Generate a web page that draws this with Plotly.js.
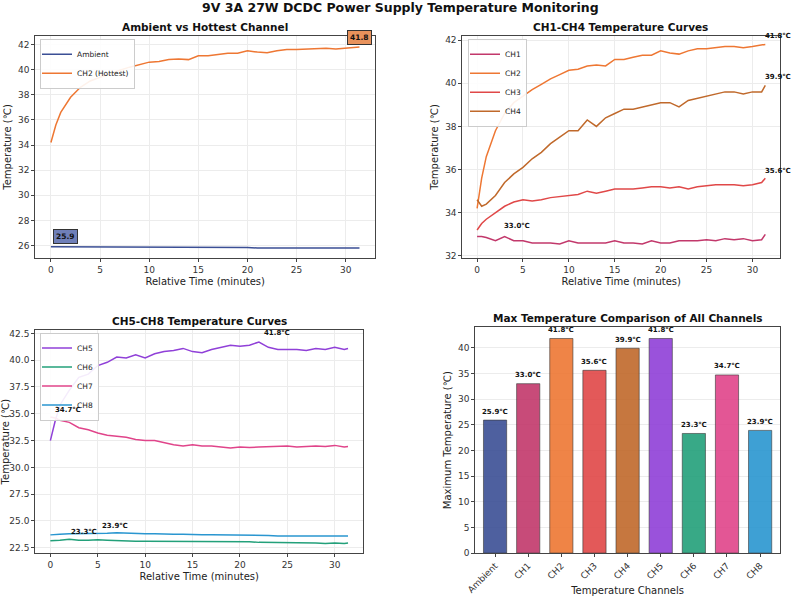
<!DOCTYPE html>
<html><head><meta charset="utf-8">
<script src="https://cdn.plot.ly/plotly-3.0.1.min.js"></script>
<style>body{margin:0;background:#fff}#chart{width:800px;height:596px}</style>
</head><body><div id="chart"></div>
<script>
// time samples in minutes
const timeMin = [0,0.5,1,2,3,4,5,6,7,8,9,10,11,12,13,14,15,16,17,18,19,20,21,22,23,24,25,26,27,28,29,30,31,31.4];
const ambient = [25.9,25.9,25.9,25.9,25.9,25.9,25.85,25.85,25.9,25.9,25.9,25.9,25.9,25.9,25.85,25.85,25.9,25.85,25.85,25.85,25.85,25.85,25.8,25.8,25.8,25.8,25.8,25.8,25.8,25.8,25.8,25.8,25.8,25.8];
const ch1 = [32.9,32.9,32.85,32.7,32.9,32.7,32.7,32.6,32.6,32.6,32.55,32.7,32.6,32.6,32.6,32.6,32.7,32.6,32.6,32.55,32.7,32.6,32.6,32.7,32.7,32.7,32.75,32.7,32.8,32.75,32.8,32.7,32.75,33.0];
const ch2 = [34.2,35.6,36.6,37.8,38.6,39.1,39.4,39.7,39.95,40.2,40.4,40.6,40.65,40.8,40.85,40.8,41.1,41.1,41.2,41.3,41.3,41.5,41.4,41.35,41.5,41.6,41.6,41.65,41.7,41.7,41.65,41.7,41.75,41.8];
const ch3 = [33.2,33.5,33.7,34.0,34.3,34.5,34.6,34.55,34.6,34.7,34.75,34.8,34.85,35.0,34.9,35.0,35.1,35.1,35.1,35.15,35.2,35.2,35.15,35.2,35.1,35.2,35.25,35.3,35.3,35.3,35.25,35.3,35.4,35.6];
const ch4 = [34.6,34.3,34.4,34.8,35.4,35.8,36.1,36.5,36.8,37.2,37.5,37.8,37.8,38.3,38.0,38.4,38.6,38.8,38.8,38.9,39.0,39.1,39.1,38.9,39.2,39.3,39.4,39.5,39.6,39.6,39.5,39.6,39.6,39.9];
const ch5 = [32.5,34.3,35.8,37.2,38.4,38.7,39.5,39.8,40.3,40.2,40.5,40.2,40.6,40.8,40.9,41.1,40.8,40.7,41.0,41.2,41.4,41.3,41.4,41.7,41.2,41.0,41.0,41.0,40.9,41.1,41.0,41.2,41.0,41.1];
const ch6 = [23.15,23.15,23.2,23.3,23.2,23.2,23.25,23.2,23.15,23.1,23.1,23.1,23.1,23.1,23.05,23.1,23.1,23.05,23.05,23.05,23.1,23.05,23.05,23.0,23.0,22.95,22.95,22.95,22.95,22.95,22.9,22.95,22.9,22.95];
const ch7 = [34.7,34.6,34.4,34.2,33.7,33.5,33.2,33.0,32.9,32.8,32.6,32.5,32.5,32.3,32.1,32.0,32.1,32.0,32.0,31.9,31.8,31.9,31.85,31.9,31.95,31.95,32.0,31.9,31.95,32.0,31.95,32.05,31.9,31.95];
const ch8 = [23.7,23.7,23.75,23.8,23.8,23.85,23.85,23.85,23.9,23.85,23.8,23.8,23.8,23.75,23.75,23.75,23.7,23.7,23.7,23.7,23.7,23.7,23.65,23.65,23.65,23.6,23.6,23.6,23.6,23.6,23.55,23.55,23.55,23.6];
const barLabels = ['Ambient','CH1','CH2','CH3','CH4','CH5','CH6','CH7','CH8'];
const maxTemps = [25.9,33.0,41.8,35.6,39.9,41.8,23.3,34.7,23.9];
const colors = ['#3b4f95','#c2386b','#ee7733','#e04848','#c0692b','#9040d8','#23a07a','#e0448a','#2a96d0'];

const font = 'DejaVu Sans, sans-serif';
const line = (y, name, c, xa, ya, legend) => ({
  type: 'scatter', mode: 'lines', x: timeMin, y, name, xaxis: xa, yaxis: ya, legend,
  line: { color: c, width: 1.5 }
});

const traces = [
  line(ambient, 'Ambient', colors[0], 'x', 'y', 'legend'),
  line(ch2, 'CH2 (Hottest)', colors[2], 'x', 'y', 'legend'),
  line(ch1, 'CH1', colors[1], 'x2', 'y2', 'legend2'),
  line(ch2, 'CH2', colors[2], 'x2', 'y2', 'legend2'),
  line(ch3, 'CH3', colors[3], 'x2', 'y2', 'legend2'),
  line(ch4, 'CH4', colors[4], 'x2', 'y2', 'legend2'),
  line(ch5, 'CH5', colors[5], 'x3', 'y3', 'legend3'),
  line(ch6, 'CH6', colors[6], 'x3', 'y3', 'legend3'),
  line(ch7, 'CH7', colors[7], 'x3', 'y3', 'legend3'),
  line(ch8, 'CH8', colors[8], 'x3', 'y3', 'legend3'),
  { type: 'bar', x: barLabels, y: maxTemps, xaxis: 'x4', yaxis: 'y4', showlegend: false,
    marker: { color: colors, opacity: 0.9, line: { color: '#222', width: 0.6 } }, width: 0.7 }
];

const ax = (domain, anchor, extra) => Object.assign({
  domain, anchor, showline: true, mirror: true, linecolor: '#444', linewidth: 1,
  gridcolor: '#ececec', zeroline: false, ticks: 'outside', ticklen: 3, tickcolor: '#444',
  tickfont: { size: 9, color: '#333' }
}, extra);
const ttl = (text) => ({ text, font: { size: 10, color: '#222' }, standoff: 4 });
const leg = (y, x) => ({ x, y, xanchor: 'left', yanchor: 'top', bgcolor: 'rgba(255,255,255,0.9)',
  bordercolor: '#ccc', borderwidth: 1, font: { size: 7.5, color: '#222' }, tracegroupgap: 0,
  itemwidth: 30, indentation: -4 });

// value labels
const ann = [];
const small = { size: 7, color: '#111', weight: 'bold' };
const lab = (text, x, y, xref, yref, extra) => ann.push(Object.assign({ text, x, y, xref, yref,
  showarrow: false, font: { size: 7.5, color: '#111', family: font, weight: 'bold' }, xanchor: 'left', yanchor: 'bottom' }, extra));
lab('25.9', 0.2, 26.1, 'x', 'y', { bgcolor: '#6f7fb8', bordercolor: '#333', borderwidth: 1, borderpad: 2 });
lab('41.8', 31.4, 41.95, 'x', 'y', { xanchor: 'center', bgcolor: '#e8925c', bordercolor: '#333', borderwidth: 1, borderpad: 2 });
lab('41.8℃', 31.2, 41.9, 'x2', 'y2', { font: small });
lab('39.9℃', 31.2, 40.0, 'x2', 'y2', { font: small });
lab('35.6℃', 31.2, 35.65, 'x2', 'y2', { font: small });
lab('33.0℃', 2.7, 33.1, 'x2', 'y2', { font: small });
lab('41.8℃', 22.3, 41.95, 'x3', 'y3', { font: small });
lab('34.7℃', 0.3, 34.8, 'x3', 'y3', { font: small });
lab('23.3℃', 2.0, 23.4, 'x3', 'y3', { font: small });
lab('23.9℃', 5.2, 24.0, 'x3', 'y3', { font: small });
barLabels.forEach((b, i) => lab(maxTemps[i].toFixed(1) + '℃', b, maxTemps[i] + 0.5, 'x4', 'y4',
  { xanchor: 'center', font: small }));

// subplot titles and main title
const head = (text, x, y, size) => ann.push({ text: '<b>' + text + '</b>', x, y, xref: 'paper', yref: 'paper',
  showarrow: false, xanchor: 'center', yanchor: 'bottom', font: { size, color: '#111' } });
head('9V 3A 27W DCDC Power Supply Temperature Monitoring', 0.5, 0.972, 12.5);
head('Ambient vs Hottest Channel', 0.256, 0.942, 10.5);
head('CH1-CH4 Temperature Curves', 0.776, 0.942, 10.5);
head('CH5-CH8 Temperature Curves', 0.249, 0.448, 10.5);
head('Max Temperature Comparison of All Channels', 0.785, 0.453, 10.5);

const layout = {
  width: 800, height: 596, margin: { l: 0, r: 0, t: 0, b: 0 },
  paper_bgcolor: '#fff', plot_bgcolor: '#fff', font: { family: font },
  xaxis: ax([0.044, 0.469], 'y', { range: [-1.6, 33], dtick: 5, title: ttl('Relative Time (minutes)') }),
  yaxis: ax([0.567, 0.94], 'x', { range: [25, 42.7], dtick: 2, title: ttl('Temperature (℃)') }),
  xaxis2: ax([0.578, 0.975], 'y2', { range: [-1.6, 33], dtick: 5, title: ttl('Relative Time (minutes)') }),
  yaxis2: ax([0.567, 0.94], 'x2', { range: [31.9, 42.2], dtick: 2, title: ttl('Temperature (℃)') }),
  xaxis3: ax([0.044, 0.454], 'y3', { range: [-1.6, 33], dtick: 5, title: ttl('Relative Time (minutes)') }),
  yaxis3: ax([0.072, 0.446], 'x3', { range: [22, 42.8], dtick: 2.5, tickformat: '.1f', title: ttl('Temperature (℃)') }),
  xaxis4: ax([0.594, 0.975], 'y4', { range: [-0.6, 8.6], tickangle: -45, showgrid: false, title: ttl('Temperature Channels') }),
  yaxis4: ax([0.072, 0.451], 'x4', { range: [0, 44], dtick: 5, title: ttl('Maximum Temperature (℃)') }),
  legend: leg(0.935, 0.05),
  legend2: leg(0.935, 0.585),
  legend3: leg(0.442, 0.05),
  annotations: ann
};

Plotly.newPlot('chart', traces, layout, { displayModeBar: false, staticPlot: true });
</script></body></html>
